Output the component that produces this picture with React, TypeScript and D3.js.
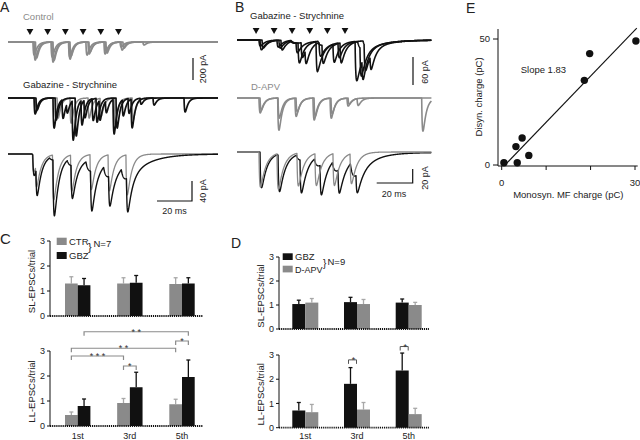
import React from 'react';
import * as d3 from 'd3';

const FONT = 'Liberation Sans, Arial, Helvetica, sans-serif';
const GRAY = '#8a8a8a';
const ERRGRAY = '#a8a8a8';

// ---------- Panel A (traces): events [time ms, amplitude pA, decay ms] ----------
const stimA = [12.4, 22.4, 32.4, 42.4, 52.4, 62.4];
const controlSweepsA: [number, number, number][][] = [
  [[14.7, -164, 1.6], [24.8, -182, 1.6], [34.4, -155, 1.6], [44.0, -118, 1.6], [54.2, -109, 1.6], [63.8, -73, 1.6]],
  [[15.5, -145, 1.6], [25.4, -164, 1.6], [35.0, -127, 1.6], [45.2, -109, 1.6], [55.3, -100, 1.6], [64.9, -55, 1.6], [76.2, -27, 1.6]],
  [[14.1, -118, 1.6], [24.3, -136, 1.6], [34.2, -136, 1.6], [45.7, -91, 1.6], [54.8, -82, 1.6], [63.3, -45, 1.6]],
];
const gbzGraySweepsA: [number, number, number][][] = [
  [[15.3, -127, 1.5], [27.7, -182, 1.5], [35.0, -227, 1.5], [45.2, -182, 1.5], [52.0, -164, 1.5], [59.9, -236, 1.5], [70.1, -200, 1.5]],
];
const gbzBlackSweepsA: [number, number, number][][] = [
  [[14.7, -145, 1.5], [25.4, -273, 1.5], [30.5, -173, 1.5], [33.0, -90, 1.5], [36.2, -364, 1.5], [41.2, -227, 1.5], [47.5, -200, 1.5], [51.4, -182, 1.5], [55.0, -110, 1.5], [59.3, -318, 1.5], [64.5, -150, 1.5], [69.5, -264, 1.5], [81.9, -64, 1.5], [99.4, -127, 1.5]],
  [[15.8, -109, 1.5], [26.6, -200, 1.5], [37.9, -345, 1.5], [42.9, -164, 1.5], [49.7, -218, 1.5], [61.0, -273, 1.5], [67.8, -136, 1.5], [74.6, -55, 1.5]],
];
const avgCtrA: [number, number, number][] = [
  [13.8, -36, 2.5], [15.5, -44, 2.5], [25.1, -90, 2.5], [35.3, -72, 2.5], [46.3, -70, 2.5], [56.5, -72, 2.5], [66.6, -80, 2.5],
];
const avgGbzA: [number, number, number][] = [
  [14.0, -40, 2.5], [15.8, -56, 2.5], [25.4, -112, 2.5], [35.6, -66, 2.5], [46.6, -80, 2.5], [56.8, -60, 2.5], [66.9, -68, 2.5],
  [13.5, -4, 11], [23.5, -8, 11], [33.5, -16, 11], [44.0, -24, 11], [54.0, -28, 11], [64.0, -28, 11],
];

// ---------- Panel B (traces) ----------
const stimB = [10.6, 20.6, 30.6, 40.4, 50.2, 60.0];
const gbzSweepsB: [number, number, number][][] = [
  [[12.8, -21, 2.5], [23.3, -17, 2.5], [33.9, -43, 2.5], [43.9, -64, 2.5], [53.3, -39, 2.5], [65.6, -77, 2.5], [69.4, -43, 2.5], [66, -20, 10], [30, -6, 12], [45, -8, 12]],
  [[13.9, -17, 2.5], [24.4, -21, 2.5], [35.6, -32, 2.5], [37.8, -30, 2.5], [47.2, -39, 2.5], [57.2, -43, 2.5], [68.3, -58, 2.5], [67, -18, 10], [30, -6, 12], [45, -8, 12]],
  [[12.2, -13, 2.5], [22.2, -15, 2.5], [32.8, -21, 2.5], [45.6, -26, 2.5], [56.1, -32, 2.5], [70.6, -51, 2.5], [73.9, -30, 2.5], [70, -16, 10], [30, -6, 12], [45, -8, 12]],
];
const apvSweepsB: [number, number, number][][] = [
  [[12.2, -32, 1.8], [22.6, -69, 1.8], [32.2, -39, 1.8], [42.2, -47, 1.8], [51.7, -43, 1.8], [61.1, -17, 1.8], [66.7, -15, 1.8], [102.6, -71, 1.8]],
  [[12.8, -26, 1.8], [22.8, -43, 1.8], [32.8, -30, 1.8], [42.8, -39, 1.8], [52.2, -34, 1.8], [61.7, -13, 1.8]],
];
const avgApvB: [number, number, number][] = [
  [12.2, -50, 3], [22.2, -51, 3], [33.3, -47, 3], [43.3, -46, 3], [53.3, -46, 3], [62.8, -43, 3],
];
const avgGbzB: [number, number, number][] = [
  [12.8, -50, 3], [22.8, -51, 3], [35.0, -47, 3], [46.1, -43, 3], [56.1, -34, 3], [66.1, -26, 3],
  [12.5, -1.4, 8], [22.5, -4, 8], [33, -9, 8], [43, -14, 8], [53, -18, 8], [63, -22, 8], [63, -2, 40],
];

// ---------- Panel C (bars) ----------
const categories = ['1st', '3rd', '5th'];
const slCtr = [1.30, 1.30, 1.28];
const slCtrErr = [0.27, 0.23, 0.25];
const slGbz = [1.23, 1.33, 1.30];
const slGbzErr = [0.27, 0.29, 0.23];
const llCtr = [0.44, 0.92, 0.87];
const llCtrErr = [0.12, 0.18, 0.20];
const llGbz = [0.80, 1.55, 1.96];
const llGbzErr = [0.28, 0.60, 0.68];
const yTicks = [0, 1, 2, 3];
// significance: [cat, series] -> [cat, series], level (units), label ; series 0 = CTR, 1 = GBZ
const sigC: { a: [number, number]; b: [number, number]; level: number; label: string }[] = [
  { a: [0, 1], b: [2, 1], level: 3.77, label: '* *' },
  { a: [0, 0], b: [2, 0], level: 3.11, label: '* *' },
  { a: [0, 0], b: [1, 0], level: 2.8, label: '* * *' },
  { a: [2, 0], b: [2, 1], level: 3.4, label: '*' },
  { a: [1, 0], b: [1, 1], level: 2.4, label: '*' },
];

// ---------- Panel D (bars) ----------
const slGbzD = [1.04, 1.12, 1.10];
const slGbzDErr = [0.16, 0.20, 0.15];
const slApv = [1.10, 1.04, 1.00];
const slApvErr = [0.17, 0.19, 0.11];
const llGbzD = [0.71, 1.81, 2.36];
const llGbzDErr = [0.33, 0.67, 0.72];
const llApv = [0.64, 0.75, 0.56];
const llApvErr = [0.32, 0.29, 0.24];
const sigD: { cat: number; level: number; label: string }[] = [
  { cat: 1, level: 2.8, label: '*' },
  { cat: 2, level: 3.35, label: '*' },
];

// ---------- Panel E (scatter) ----------
const monoCharge = [0.5, 3.5, 3.2, 4.6, 6.1, 18.6, 19.8, 30.2];
const disynCharge = [0.9, 0.9, 7.3, 10.7, 3.8, 33.6, 44.2, 49.2];
const fitSlope = 1.83;
const fitX0 = 0.74;
const fitRange = [0.74, 30.4];
const eXTicks = [0, 10, 20, 30];
const eXLabels = [0, 30];
const eYTicks = [0, 50];

type Ev = [number, number, number];

function kernel(dt: number, td: number) {
  const tr = td > 6 ? 1.5 : 0.35;
  const tp = ((tr * td) / (td - tr)) * Math.log(td / tr);
  const peak = Math.exp(-tp / td) - Math.exp(-tp / tr);
  return (Math.exp(-dt / td) - Math.exp(-dt / tr)) / peak;
}

function sweepPath(evs: Ev[], tMax: number, xs: d3.ScaleLinear<number, number>, ys: d3.ScaleLinear<number, number>) {
  const pts: [number, number][] = [];
  const n = Math.round(tMax / 0.1);
  for (let i = 0; i <= n; i++) {
    const t = i * 0.1;
    let v = 0;
    for (const [t0, a, td] of evs) if (t > t0) v += a * kernel(t - t0, td);
    pts.push([t, v]);
  }
  return d3.line<[number, number]>().x((d) => xs(d[0])).y((d) => ys(d[1]))(pts) ?? '';
}

function Sweeps({ sweeps, color, xs, ys, tMax, w = 1.5 }: any) {
  return (
    <g>
      {sweeps.map((s: Ev[], i: number) => (
        <path key={i} d={sweepPath(s, tMax, xs, ys)} fill="none" stroke={color} strokeWidth={w} strokeLinejoin="round" />
      ))}
    </g>
  );
}

const tri = d3.symbol().type(d3.symbolTriangle).size(20)() ?? '';

function Arrows({ stims, xs, y }: any) {
  return (
    <g>
      {stims.map((t: number, i: number) => (
        <path key={i} d={tri} transform={`translate(${xs(t)},${y}) rotate(180)`} fill="#111" />
      ))}
    </g>
  );
}

function VText({ x, y, children, size = 9.5, fill = '#222' }: any) {
  return (
    <text transform={`translate(${x},${y}) rotate(-90)`} textAnchor="middle" fontSize={size} fill={fill} fontFamily={FONT}>
      {children}
    </text>
  );
}

function BarPanel({ ys, xs, axisX, axisEnd, bw, left, right, leftErr, rightErr, leftColor, rightColor, leftErrColor, rightErrColor, showCats, title, titleX }: any) {
  const y0 = ys(0);
  return (
    <g>
      <line x1={axisX} x2={axisX} y1={y0} y2={ys(3)} stroke="#111" strokeWidth={1} />
      {yTicks.map((t) => (
        <g key={t}>
          <line x1={axisX - 3} x2={axisX} y1={ys(t)} y2={ys(t)} stroke="#111" strokeWidth={1} />
          <text x={axisX - 5} y={ys(t)} dy="0.35em" textAnchor="end" fontSize={9} fontFamily={FONT} fill="#222">{t}</text>
        </g>
      ))}
      {categories.map((c, i) => {
        const cx = xs(c);
        const bars = [
          { x: cx - bw, v: left[i], e: leftErr[i], fill: leftColor, ec: leftErrColor },
          { x: cx, v: right[i], e: rightErr[i], fill: rightColor, ec: rightErrColor },
        ];
        return (
          <g key={c}>
            {bars.map((b, j) => (
              <g key={j}>
                <line x1={b.x + bw / 2} x2={b.x + bw / 2} y1={ys(b.v)} y2={ys(b.v + b.e)} stroke={b.ec} strokeWidth={1.3} />
                <line x1={b.x + bw / 2 - 2} x2={b.x + bw / 2 + 2} y1={ys(b.v + b.e)} y2={ys(b.v + b.e)} stroke={b.ec} strokeWidth={1.3} />
                <rect x={b.x} y={ys(b.v)} width={bw} height={y0 - ys(b.v)} fill={b.fill} />
              </g>
            ))}
            {showCats && (
              <text x={cx} y={439} textAnchor="middle" fontSize={9} fontFamily={FONT} fill="#222">{c}</text>
            )}
          </g>
        );
      })}
      <line x1={axisX} x2={axisEnd} y1={y0} y2={y0} stroke="#111" strokeWidth={1.8} strokeDasharray="1.2 0.9" />
      <VText x={titleX} y={(ys(0) + ys(3)) / 2 + 3}>{title}</VText>
    </g>
  );
}

export default function App() {
  // A scales
  const xA = d3.scaleLinear().domain([0, 118.6]).range([8, 218]);
  const yA1 = d3.scaleLinear().domain([0, -200]).range([42, 64]);
  const yA2 = d3.scaleLinear().domain([0, -200]).range([98, 120]);
  const yA3 = d3.scaleLinear().domain([0, -40]).range([154, 174]);
  // B scales
  const xB = d3.scaleLinear().domain([0, 108]).range([237, 431.4]);
  const yB1 = d3.scaleLinear().domain([0, -60]).range([40, 68]);
  const yB2 = d3.scaleLinear().domain([0, -60]).range([98, 126]);
  const yB3 = d3.scaleLinear().domain([0, -20]).range([152, 166]);

  // C scales
  const xC = d3.scalePoint<string>().domain(categories).range([77.7, 182]);
  const yCsl = d3.scaleLinear().domain([0, 3]).range([316, 241]);
  const yCll = d3.scaleLinear().domain([0, 3]).range([426, 351]);
  const bwC = 12.7;
  // D scales
  const xD = d3.scalePoint<string>().domain(categories).range([305.3, 408.7]);
  const yDsl = d3.scaleLinear().domain([0, 3]).range([329, 257]);
  const yDll = d3.scaleLinear().domain([0, 3]).range([427.7, 355]);
  const bwD = 13;

  // E scales
  const xE = d3.scaleLinear().domain([0, 30]).range([501.7, 635]);
  const yE = d3.scaleLinear().domain([0, 50]).range([165, 39]);
  const fitLine = d3.line<number>().x((v) => xE(v)).y((v) => yE(fitSlope * (v - fitX0)));

  const barCx = (cat: number, series: number) => xC(categories[cat])! + (series === 0 ? -bwC / 2 : bwC / 2);

  const txt = (x: number, y: number, s: string, opts: any = {}) => (
    <text x={x} y={y} fontSize={opts.size ?? 9.5} fontFamily={FONT} fill={opts.fill ?? '#222'} textAnchor={opts.anchor ?? 'start'}>{s}</text>
  );

  return (
    <svg width={640} height={440} style={{ position: 'absolute', left: 0, top: 0, background: '#fff' }}>
      <rect width={640} height={440} fill="#fff" />
      {/* Panel letters */}
      {txt(0, 12, 'A', { size: 14 })}
      {txt(235, 12, 'B', { size: 14 })}
      {txt(466, 13, 'E', { size: 14 })}
      {txt(0, 244, 'C', { size: 15 })}
      {txt(231, 248, 'D', { size: 14 })}

      {/* ---------- A ---------- */}
      {txt(23, 20, 'Control', { fill: GRAY })}
      <Arrows stims={stimA} xs={xA} y={31} />
      <Sweeps sweeps={controlSweepsA} color={GRAY} xs={xA} ys={yA1} tMax={118.6} w={1.7} />
      <line x1={193} x2={193} y1={58} y2={80} stroke="#111" strokeWidth={1.2} />
      <VText x={206} y={69} size={9}>200 pA</VText>
      {txt(23, 88, 'Gabazine - Strychnine')}
      <Sweeps sweeps={gbzGraySweepsA} color={GRAY} xs={xA} ys={yA2} tMax={118.6} w={1.5} />
      <Sweeps sweeps={gbzBlackSweepsA} color="#111" xs={xA} ys={yA2} tMax={118.6} w={1.7} />
      <Sweeps sweeps={[avgCtrA]} color={GRAY} xs={xA} ys={yA3} tMax={118.6} w={1.3} />
      <Sweeps sweeps={[avgGbzA]} color="#111" xs={xA} ys={yA3} tMax={118.6} w={1.4} />
      <path d="M157,201 L192,201 L192,181" fill="none" stroke="#111" strokeWidth={1.2} />
      {txt(174.5, 214, '20 ms', { anchor: 'middle', size: 9 })}
      <VText x={206} y={191} size={9}>40 pA</VText>

      {/* ---------- B ---------- */}
      {txt(250, 19, 'Gabazine - Strychnine')}
      <Arrows stims={stimB} xs={xB} y={30} />
      <Sweeps sweeps={gbzSweepsB} color="#111" xs={xB} ys={yB1} tMax={108} w={1.6} />
      <line x1={413} x2={413} y1={57} y2={85} stroke="#111" strokeWidth={1.2} />
      <VText x={428} y={72} size={9}>60 pA</VText>
      {txt(251, 90, 'D-APV', { fill: GRAY })}
      <Sweeps sweeps={apvSweepsB} color={GRAY} xs={xB} ys={yB2} tMax={108} w={1.6} />
      <Sweeps sweeps={[avgGbzB]} color="#111" xs={xB} ys={yB3} tMax={108} w={1.4} />
      <Sweeps sweeps={[avgApvB]} color={GRAY} xs={xB} ys={yB3} tMax={108} w={1.3} />
      <path d="M376.7,183 L412.7,183 L412.7,169" fill="none" stroke="#111" strokeWidth={1.2} />
      {txt(394, 197, '20 ms', { anchor: 'middle', size: 9 })}
      <VText x={428} y={178} size={9}>20 pA</VText>

      {/* ---------- C ---------- */}
      <BarPanel ys={yCsl} xs={xC} axisX={50} axisEnd={203} bw={bwC} left={slCtr} right={slGbz} leftErr={slCtrErr} rightErr={slGbzErr}
        leftColor={GRAY} rightColor="#111" leftErrColor={ERRGRAY} rightErrColor="#111" showCats={false} title="SL-EPSCs/trial" titleX={35} />
      <BarPanel ys={yCll} xs={xC} axisX={50} axisEnd={203} bw={bwC} left={llCtr} right={llGbz} leftErr={llCtrErr} rightErr={llGbzErr}
        leftColor={GRAY} rightColor="#111" leftErrColor={ERRGRAY} rightErrColor="#111" showCats={true} title="LL-EPSCs/trial" titleX={35} />
      <rect x={56.7} y={237.7} width={10} height={7.3} fill={GRAY} />
      <rect x={56.7} y={252} width={10} height={7} fill="#111" />
      {txt(69, 245, 'CTR', { size: 9.5 })}
      {txt(69, 259, 'GBZ', { size: 9.5 })}
      {txt(88, 251, '}', { size: 11 })}
      {txt(93.5, 247, 'N=7', { size: 9.5 })}
      {sigC.map((s, i) => {
        const x1 = barCx(s.a[0], s.a[1]);
        const x2 = barCx(s.b[0], s.b[1]);
        const y = yCll(s.level);
        return (
          <g key={i}>
            <path d={`M${x1},${y + 4} L${x1},${y} L${x2},${y} L${x2},${y + 4}`} fill="none" stroke={GRAY} strokeWidth={1.2} />
            <text x={(x1 + x2) / 2} y={y + 3} textAnchor="middle" fontSize={9} fontFamily={FONT} fill="#333">{s.label}</text>
          </g>
        );
      })}

      {/* ---------- D ---------- */}
      <BarPanel ys={yDsl} xs={xD} axisX={279} axisEnd={429} bw={bwD} left={slGbzD} right={slApv} leftErr={slGbzDErr} rightErr={slApvErr}
        leftColor="#111" rightColor={GRAY} leftErrColor="#111" rightErrColor={ERRGRAY} showCats={false} title="SL-EPSCs/trial" titleX={264} />
      <BarPanel ys={yDll} xs={xD} axisX={279} axisEnd={429} bw={bwD} left={llGbzD} right={llApv} leftErr={llGbzDErr} rightErr={llApvErr}
        leftColor="#111" rightColor={GRAY} leftErrColor="#111" rightErrColor={ERRGRAY} showCats={true} title="LL-EPSCs/trial" titleX={264} />
      <rect x={282.7} y={253.3} width={10} height={6.7} fill="#111" />
      <rect x={282.7} y={265.7} width={10} height={6.7} fill={GRAY} />
      {txt(295, 260, 'GBZ', { size: 9.5 })}
      {txt(295, 272.5, 'D-APV', { size: 9 })}
      {txt(323, 267, '}', { size: 10 })}
      {txt(327.5, 265, 'N=9', { size: 9.5 })}
      {sigD.map((s, i) => {
        const cx = xD(categories[s.cat])! - bwD / 2;
        const y = yDll(s.level);
        return (
          <g key={i}>
            <path d={`M${cx - 2},${y + 4} L${cx - 2},${y} L${cx + 6},${y} L${cx + 6},${y + 4}`} fill="none" stroke="#555" strokeWidth={1} />
            <text x={cx + 3} y={y + 3} textAnchor="middle" fontSize={9} fontFamily={FONT} fill="#333">{s.label}</text>
          </g>
        );
      })}

      {/* ---------- E ---------- */}
      <line x1={498} x2={498} y1={29} y2={166} stroke="#111" strokeWidth={1} />
      <line x1={498} x2={637.7} y1={166} y2={166} stroke="#111" strokeWidth={1} />
      {eYTicks.map((t) => (
        <g key={t}>
          <line x1={493} x2={498} y1={yE(t)} y2={yE(t)} stroke="#111" />
          <text x={490} y={yE(t)} dy="0.35em" textAnchor="end" fontSize={9.5} fontFamily={FONT} fill="#222">{t}</text>
        </g>
      ))}
      {eXTicks.map((t) => (
        <line key={t} x1={xE(t)} x2={xE(t)} y1={166} y2={170} stroke="#111" />
      ))}
      {eXLabels.map((t) => (
        <text key={t} x={xE(t)} y={186} textAnchor="middle" fontSize={9.5} fontFamily={FONT} fill="#222">{t}</text>
      ))}
      <path d={fitLine(fitRange) ?? ''} fill="none" stroke="#111" strokeWidth={1.1} />
      {monoCharge.map((m, i) => (
        <circle key={i} cx={xE(m)} cy={yE(disynCharge[i])} r={3.7} fill="#111" />
      ))}
      {txt(520.7, 73, 'Slope 1.83')}
      {txt(568.3, 198, 'Monosyn. MF charge (pC)', { anchor: 'middle' })}
      <VText x={482} y={97}>Disyn. charge (pC)</VText>
    </svg>
  );
}
